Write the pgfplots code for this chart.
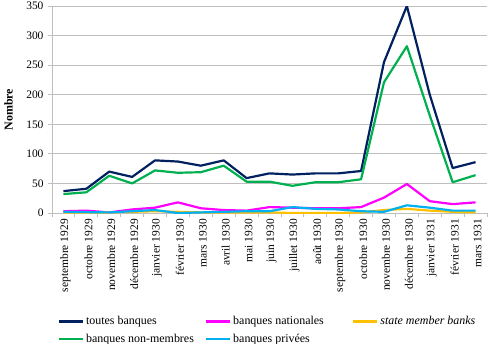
\documentclass[border=0pt]{standalone}
\usepackage{pgfplots}
\pgfplotsset{compat=1.18}
\usepackage{fontspec}
\setmainfont{Liberation Serif}

\definecolor{cToutes}{RGB}{0,32,96}
\definecolor{cNat}{RGB}{255,0,255}
\definecolor{cState}{RGB}{255,192,0}
\definecolor{cNonMem}{RGB}{0,176,80}
\definecolor{cPriv}{RGB}{0,176,240}
\definecolor{gridgray}{RGB}{190,190,190}

\begin{document}
\begin{tikzpicture}
\begin{axis}[
  at={(0,0)}, anchor=south west,
  scale only axis,
  width=435bp, height=207bp,
  xmin=-0.5, xmax=18.5,
  ymin=0, ymax=350,
  ytick={0,50,...,350},
  xtick={0,...,18},
  xticklabels={septembre 1929, octobre 1929, novembre 1929, décembre 1929,
    janvier 1930, février 1930, mars 1930, avril 1930, mai 1930, juin 1930,
    juillet 1930, août 1930, septembre 1930, octobre 1930, novembre 1930,
    décembre 1930, janvier 1931, février 1931, mars 1931},
  minor xtick={-0.5,0.5,...,18.5},
  major tick length=4bp,
  minor tick length=4bp,
  tick align=outside,
  major x tick style={draw=none},
  axis x line*=bottom,
  axis y line*=left,
  axis line style={gridgray, line width=0.8pt},
  every tick/.style={gridgray, line width=0.8pt},
  ymajorgrids,
  major grid style={gridgray, line width=0.8pt},
  /pgf/number format/assume math mode=true,
  tick label style={font=\fontsize{11.5}{13}\selectfont, text=black},
  xticklabel style={rotate=90, anchor=east, inner sep=2bp, yshift=-2bp},
  yticklabel style={xshift=-1bp},
  ylabel={Nombre},
  ylabel style={font=\fontsize{12}{14}\selectfont\bfseries,
    at={(axis description cs:-0.082,0.5)}, anchor=south},
  legend columns=3,
  legend cell align=left,
  legend style={at={(axis description cs:0.013,-0.49)}, anchor=north west,
    draw=none, fill=none, font=\fontsize{12}{14}\selectfont,
    row sep=4bp, inner sep=0pt},
  legend image code/.code={\draw[#1] (0bp,0bp) -- (24bp,0bp);},
  every axis plot/.append style={line width=2.2pt, line join=round, mark=none},
]
\addplot[cToutes] coordinates {
  (0,37) (1,41) (2,70) (3,61) (4,89) (5,87) (6,80) (7,89) (8,59) (9,67)
  (10,65) (11,67) (12,67) (13,71) (14,255) (15,350) (16,200) (17,76) (18,86)};
\addlegendentry{\makebox[117bp][l]{toutes banques}}
\addplot[cNat] coordinates {
  (0,3) (1,4) (2,1) (3,6) (4,9) (5,18) (6,8) (7,5) (8,4) (9,10)
  (10,9) (11,8) (12,8) (13,10) (14,26) (15,49) (16,20) (17,15) (18,18)};
\addlegendentry{\makebox[117bp][l]{banques nationales}}
\addplot[cState] coordinates {
  (0,1) (1,1) (2,1) (3,2) (4,3) (5,2) (6,1) (7,1) (8,1) (9,1)
  (10,0) (11,0) (12,0) (13,1) (14,5) (15,7) (16,4) (17,2) (18,1)};
\addlegendentry{\textit{state member banks}}
\addplot[cNonMem] coordinates {
  (0,32) (1,35) (2,63) (3,50) (4,72) (5,68) (6,69) (7,80) (8,53) (9,53)
  (10,46) (11,52) (12,52) (13,57) (14,221) (15,282) (16,165) (17,52) (18,64)};
\addlegendentry{\makebox[117bp][l]{banques non-membres}}
\addplot[cPriv] coordinates {
  (0,2) (1,1.5) (2,1) (3,3) (4,5) (5,0) (6,1) (7,2) (8,3) (9,3)
  (10,10) (11,7) (12,6) (13,3) (14,2) (15,13) (16,9) (17,4) (18,4)};
\addlegendentry{\makebox[117bp][l]{banques privées}}
\end{axis}
\pgfresetboundingbox
\path (-52bp,-131bp) rectangle (436bp,213bp);
\end{tikzpicture}
\end{document}
